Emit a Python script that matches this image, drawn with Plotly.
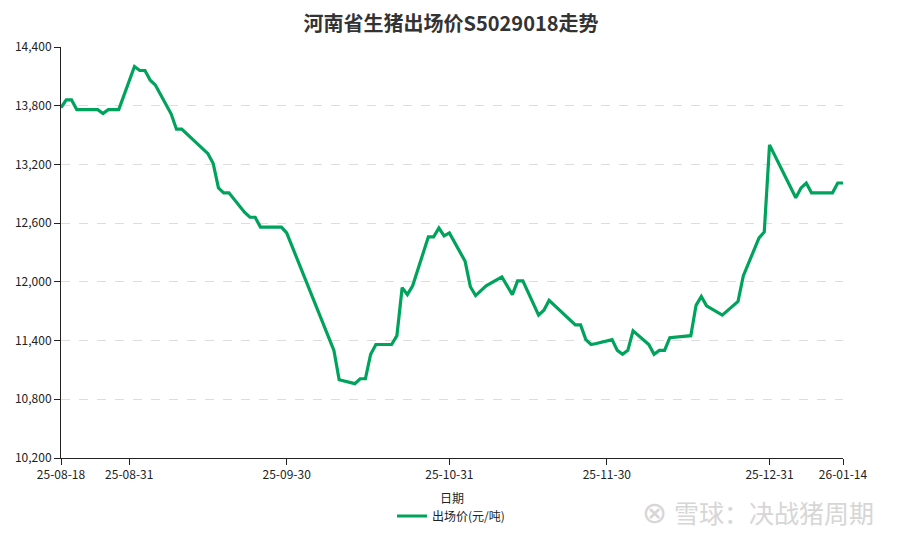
import plotly.graph_objects as go

dates = [
    "2025-08-18", "2025-08-19", "2025-08-20", "2025-08-21", "2025-08-22", "2025-08-25",
    "2025-08-26", "2025-08-27", "2025-08-28", "2025-08-29", "2025-09-01", "2025-09-02",
    "2025-09-03", "2025-09-04", "2025-09-05", "2025-09-08", "2025-09-09", "2025-09-10",
    "2025-09-15", "2025-09-16", "2025-09-17", "2025-09-18", "2025-09-19", "2025-09-22",
    "2025-09-23", "2025-09-24", "2025-09-25", "2025-09-26", "2025-09-29", "2025-09-30",
    "2025-10-09", "2025-10-10", "2025-10-13", "2025-10-14", "2025-10-15", "2025-10-16",
    "2025-10-17", "2025-10-20", "2025-10-21", "2025-10-22", "2025-10-23", "2025-10-24",
    "2025-10-27", "2025-10-28", "2025-10-29", "2025-10-30", "2025-10-31", "2025-11-03",
    "2025-11-04", "2025-11-05", "2025-11-07", "2025-11-10", "2025-11-12", "2025-11-13",
    "2025-11-14", "2025-11-17", "2025-11-18", "2025-11-19", "2025-11-24", "2025-11-25",
    "2025-11-26", "2025-11-27", "2025-11-28", "2025-12-01", "2025-12-02", "2025-12-03",
    "2025-12-04", "2025-12-05", "2025-12-08", "2025-12-09", "2025-12-10", "2025-12-11",
    "2025-12-12", "2025-12-16", "2025-12-17", "2025-12-18", "2025-12-19", "2025-12-22",
    "2025-12-25", "2025-12-26", "2025-12-29", "2025-12-30", "2025-12-31", "2026-01-05",
    "2026-01-06", "2026-01-07", "2026-01-08", "2026-01-12", "2026-01-13", "2026-01-14",
]
prices = [
    13780, 13860, 13860, 13760, 13760, 13760,
    13720, 13760, 13760, 13760, 14200, 14160,
    14160, 14060, 14010, 13715, 13560, 13560,
    13310, 13210, 12960, 12910, 12910, 12710,
    12660, 12660, 12560, 12560, 12560, 12500,
    11300, 11000, 10960, 11010, 11010, 11260,
    11360, 11360, 11450, 11940, 11870, 11960,
    12460, 12460, 12550, 12470, 12500, 12210,
    11950, 11860, 11960, 12050, 11870, 12010,
    12010, 11660, 11710, 11810, 11560, 11560,
    11410, 11360, 11370, 11410, 11300, 11260,
    11300, 11500, 11360, 11260, 11300, 11300,
    11430, 11450, 11760, 11850, 11755, 11660,
    11800, 12060, 12450, 12510, 13400, 12860,
    12960, 13010, 12910, 12910, 13010, 13010,
]

x_tick_vals = ["2025-08-18", "2025-08-31", "2025-09-30", "2025-10-31",
               "2025-11-30", "2025-12-31", "2026-01-14"]
x_tick_text = ["25-08-18", "25-08-31", "25-09-30", "25-10-31",
               "25-11-30", "25-12-31", "26-01-14"]
y_tick_vals = [10200, 10800, 11400, 12000, 12600, 13200, 13800, 14400]

title_text = "河南省生猪出场价S5029018走势"
series_name = "出场价(元/吨)"
x_title = "日期"
watermark = "雪球：决战猪周期"

FONT = "Noto Sans CJK SC"
L, R, T, B = 53, 67, 39, 90
PW, PH = 902 - L - R, 540 - T - B

fig = go.Figure()
fig.add_trace(go.Scatter(
    x=dates, y=prices, mode="lines", name=series_name,
    line=dict(color="#00A35C", width=3.2),
))

fig.update_layout(
    width=902, height=540,
    margin=dict(l=L, r=R, t=T, b=B, autoexpand=False),
    paper_bgcolor="white", plot_bgcolor="white",
    font=dict(family=FONT, size=12, color="#222"),
    title=dict(text="<b>" + title_text + "</b>", x=(451 - 8) / 902, xanchor="center",
               yref="container", y=1 - 16 / 540, yanchor="middle",
               font=dict(family=FONT, size=20, color="#333")),
    showlegend=True,
    legend=dict(orientation="h", x=(451 - 8 - L) / PW, xanchor="center",
                yref="container", y=1 - 508 / 540, yanchor="middle",
                font=dict(family=FONT, size=12, color="#222")),
    xaxis=dict(
        type="date", range=["2025-08-18", "2026-01-14"],
        tickvals=x_tick_vals, ticktext=x_tick_text, automargin=False,
        showgrid=False, showline=True, linecolor="#222", linewidth=1,
        ticks="outside", ticklen=6, tickcolor="#222",
        zeroline=False, tickfont=dict(family=FONT, size=12, color="#222"),
    ),
    yaxis=dict(
        range=[10200, 14400], tickvals=y_tick_vals, tickformat=",d", automargin=False,
        showgrid=True, gridcolor="#dddddd", griddash="dash", gridwidth=1,
        showline=True, linecolor="#222", linewidth=1,
        ticks="outside", ticklen=6, tickcolor="#222",
        zeroline=False, tickfont=dict(family=FONT, size=12, color="#222"),
    ),
)

fig.add_annotation(
    text=x_title, xref="paper", yref="paper", x=0.5, y=-39 / PH,
    xanchor="center", yanchor="middle", showarrow=False,
    font=dict(family=FONT, size=12, color="#222"),
)

fig.add_annotation(
    text=watermark, xref="paper", yref="paper", x=(876 - 8 - L) / PW, y=-54 / PH,
    xanchor="right", yanchor="middle", showarrow=False,
    font=dict(family=FONT, size=25, color="#d6d6d6"),
)
fig.add_annotation(
    text="⊗", xref="paper", yref="paper", x=(654 - 8 - L) / PW, y=-54 / PH,
    xanchor="center", yanchor="middle", showarrow=False,
    font=dict(family="DejaVu Sans", size=30, color="#d6d6d6"),
)

fig.write_html("out.html")
